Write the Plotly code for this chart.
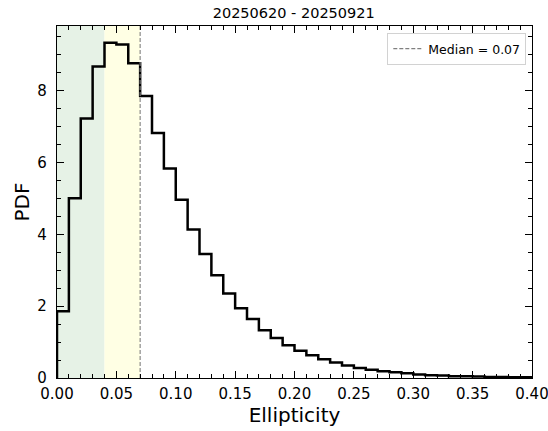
import plotly.graph_objects as go

# Data
bin_edges = [round(i * 0.01, 2) for i in range(41)]
pdf_values = [1.86, 5.00, 7.22, 8.67, 9.33, 9.28, 8.76, 7.85, 6.82, 5.83,
              4.96, 4.13, 3.45, 2.86, 2.35, 1.94, 1.64, 1.33, 1.11, 0.91,
              0.76, 0.63, 0.52, 0.43, 0.35, 0.28, 0.23, 0.19, 0.16, 0.13,
              0.10, 0.08, 0.07, 0.05, 0.05, 0.04, 0.03, 0.03, 0.02, 0.02]
x_ticks = [0.0, 0.05, 0.10, 0.15, 0.20, 0.25, 0.30, 0.35, 0.40]
y_ticks = [0, 2, 4, 6, 8]
median_value = 0.07
green_region = [0.0, 0.04]
yellow_region = [0.04, 0.07]
title_text = "20250620 - 20250921"

# step outline (histtype='step')
xs = [bin_edges[0]] + bin_edges
ys = [0] + pdf_values + [pdf_values[-1]]

ymax = max(pdf_values) * 1.05

fig = go.Figure()

fig.add_vrect(x0=green_region[0], x1=green_region[1], fillcolor="rgb(230,242,230)",
              line_width=0, layer="below")
fig.add_vrect(x0=yellow_region[0], x1=yellow_region[1], fillcolor="rgb(255,255,228)",
              line_width=0, layer="below")

fig.add_trace(go.Scatter(x=xs, y=ys, mode="lines", line=dict(color="black", width=2.5, shape="hv"),
                         showlegend=False, hoverinfo="skip"))

fig.add_trace(go.Scatter(x=[median_value, median_value], y=[0, ymax], mode="lines",
                         line=dict(color="gray", width=1.1, dash="4px,2px"),
                         name=f"Median = {median_value:.2f}"))

axis_common = dict(
    showgrid=False, zeroline=False, showline=True, linecolor="black", linewidth=1.3,
    mirror="ticks", ticks="inside", ticklen=7, tickwidth=1.1, tickcolor="black",
    tickfont=dict(family="DejaVu Sans", size=15, color="black"), automargin=False,
    ticklabeloverflow="allow",
)

fig.update_xaxes(range=[0, 0.4], tickmode="array", tickvals=x_ticks,
                 ticktext=[f"{v:.2f}" for v in x_ticks], ticklabelstandoff=2,
                 title=dict(text="Ellipticity", font=dict(family="DejaVu Sans", size=20, color="black"), standoff=4),
                 minor=dict(ticks="inside", ticklen=4, dtick=0.01, tick0=0, tickwidth=1, tickcolor="black"),
                 **axis_common)
fig.update_yaxes(range=[0, ymax], tickmode="array", tickvals=y_ticks, ticklabelstandoff=6,
                 title=dict(text="PDF", font=dict(family="DejaVu Sans", size=20, color="black"), standoff=2),
                 minor=dict(ticks="inside", ticklen=4, dtick=0.5, tick0=0, tickwidth=1, tickcolor="black"),
                 **axis_common)

fig.update_layout(
    width=548, height=431,
    margin=dict(l=57, r=16, t=26, b=53),
    paper_bgcolor="white", plot_bgcolor="white",
    title=dict(text=title_text, x=0.536, xanchor="center", y=0.97, yanchor="middle",
               font=dict(family="DejaVu Sans", size=14.5, color="black")),
    legend=dict(x=0.988, xanchor="right", y=0.98, yanchor="top",
                bordercolor="rgb(210,210,210)", borderwidth=1, bgcolor="rgba(255,255,255,0.8)",
                font=dict(family="DejaVu Sans", size=12.5, color="black"),
                itemwidth=30, tracegroupgap=0),
    font=dict(family="DejaVu Sans"),
)

fig.write_html("out.html", config={"displayModeBar": False},
               post_script="document.body.style.margin='0';document.body.style.overflow='hidden';")
